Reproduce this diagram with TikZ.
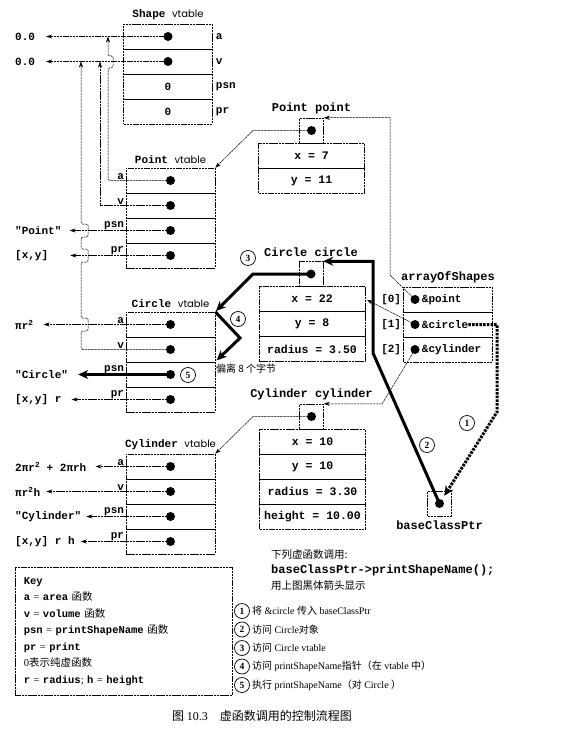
\documentclass[tikz,border=0pt]{standalone}
\usepackage{fontspec}
\setmainfont{Liberation Serif}
\setsansfont{Poppins}
\setmonofont{Liberation Mono}
\newfontfamily\cjk{Noto Sans CJK SC}
\newcommand\vtab{{\sffamily\mdseries\fontsize{10}{12}\selectfont vtable}}
\usetikzlibrary{arrows.meta,positioning}

\begin{document}
\begin{tikzpicture}[x=1pt,y=-1pt,
	thin line/.style={line width=0.5pt,dash pattern=on 2.5pt off 0.7pt},
	cell/.style={thin line,draw,minimum width=89pt,minimum height=25pt,inner sep=0pt},
	field/.style={cell,minimum width=106pt,font=\ttfamily\bfseries\fontsize{11.5}{12}\selectfont},
	holder/.style={cell,minimum width=24pt},
	dot/.style={circle,fill,inner sep=0pt,minimum size=9pt},
	code/.style={font=\ttfamily\bfseries\fontsize{11}{12}\selectfont,inner sep=0pt},
	title/.style={font=\ttfamily\bfseries\fontsize{12}{12}\selectfont,inner sep=0pt},
	ptr/.style={thin line,-{Stealth[length=6pt,width=4pt]}},
	flow/.style={line width=3pt,-{Stealth[length=10pt,width=9pt]}},
	hint/.style={flow,dash pattern=on 2.5pt off 1.2pt},
	num/.style={circle,draw,line width=0.7pt,inner sep=0pt,minimum size=15pt,font=\bfseries\fontsize{9.5}{9.5}\selectfont},
	note/.style={font=\fontsize{10}{12}\selectfont,inner sep=1pt},
	hop/.style={rounded corners=1.5pt}]
	\fill[white] (0,0) rectangle (576,735);
	\useasboundingbox (0,0) rectangle (576,735);

	\foreach \tb/\x/\y in {sv/168/36.5,pv/170.5/180.5,cv/170.5/324.5,yv/170.5/466.5}
		\foreach \row [count=\k from 0] in {A,V,Psn,Pr}
			\node[cell] (\tb\row) at (\x,\y+25*\k) {};
	\foreach \cellname in {svA,svV,pvA,pvV,pvPsn,pvPr,cvA,cvV,cvPsn,cvPr,yvA,yvV,yvPsn,yvPr}
		\node[dot] (\cellname-d) at (\cellname) {};
	\node[code] (svPsn-z) at (svPsn) {0};
	\node[code] (svPr-z) at (svPr) {0};

	\node[code,above=4pt of svA] (sv-t) {Shape \vtab};
	\node[code,above=4pt of pvA] (pv-t) {Point \vtab};
	\node[code,above=4pt of cvA] (cv-t) {Circle \vtab};
	\node[code,above=4pt of yvA] (yv-t) {Cylinder \vtab};

	\foreach \row/\lab in {A/a,V/v,Psn/psn,Pr/pr} {
		\node[code,right=3pt of sv\row] (sv\row-l) {\lab};
		\foreach \tb in {pv,cv,yv}
			\node[code,anchor=south east] (\tb\row-l) at ([shift={(-1.5pt,1pt)}]\tb\row.west) {\lab};
	}

	\node[code,anchor=west] (sA) at (15,36.5) {0.0};
	\node[code,anchor=west] (sV) at (15,61.5) {0.0};
	\node[code,anchor=west] (pPsn) at (15,230.5) {"Point"};
	\node[code,anchor=west] (pPr) at (15,255.5) {[x,y]};
	\node[code,anchor=west] (cA) at (15,324.5) {πr\textsuperscript{2}};
	\node[code,anchor=west] (cPsn) at (15,374.5) {"Circle"};
	\node[code,anchor=west] (cPr) at (15,399.5) {[x,y] r};
	\node[code,anchor=west] (yA) at (15,466.5) {2πr\textsuperscript{2} + 2πrh};
	\node[code,anchor=west] (yV) at (15,491.5) {πr\textsuperscript{2}h};
	\node[code,anchor=west] (yPsn) at (15,516.5) {"Cylinder"};
	\node[code,anchor=west] (yPr) at (15,541.5) {[x,y] r h};

	\draw[ptr,shorten >=11pt] (svA.center) -- (sA);
	\draw[ptr,shorten >=11pt] (svV.center) -- (sV);
	\draw[ptr,hop] (pvA.center) -- (108,180.5) -- (108,68) -- (113,68) -- (113,56) -- (108,56) -- (108,0 |- svA);
	\draw[ptr] (pvV.center) -- (100,205.5) -- (100,0 |- svV);
	\draw[ptr,shorten >=8pt] (pvPsn.center) -- (pPsn);
	\draw[ptr,shorten >=22pt] (pvPr.center) -- (pPr);
	\draw[ptr,shorten >=10pt] (cvA.center) -- (cA);
	\draw[ptr,hop] (cvV.center) -- (81,349.5) -- (81,331) -- (88,331) -- (88,318) -- (81,318) -- (81,262) -- (88,262) -- (88,249) -- (81,249) -- (81,237) -- (88,237) -- (88,224) -- (81,224) -- (81,0 |- svV);
	\draw[flow,shorten >=10pt] (cvPsn.center) -- (cPsn);
	\draw[ptr,shorten >=10pt] (cvPr.center) -- (cPr);
	\draw[ptr,shorten >=9pt] (yvA.center) -- (yA);
	\draw[ptr,shorten >=6pt] (yvV.center) -- (yV);
	\draw[ptr,shorten >=5pt] (yvPsn.center) -- (yPsn);
	\draw[ptr,shorten >=6pt] (yvPr.center) -- (yPr);

	\node[holder] (pp) at (311.5,130.5) {};
	\node[dot] (pp-d) at (pp) {};
	\node[field] (ppX) at (311.5,156) {x = 7};
	\node[field] (ppY) at (311.5,181) {y = 11};
	\node[title,above=4pt of pp] (pp-t) {Point point};

	\node[holder] (cc) at (311,274) {};
	\node[dot] (cc-d) at (cc) {};
	\node[field] (ccX) at (312,299) {x = 22};
	\node[field] (ccY) at (312,324) {y = 8};
	\node[field] (ccR) at (312,349) {radius = 3.50};
	\node[title,above=4pt of cc] (cc-t) {Circle circle};

	\node[holder] (yc) at (311.5,416.5) {};
	\node[dot] (yc-d) at (yc) {};
	\node[field] (ycX) at (312.5,441.5) {x = 10};
	\node[field] (ycY) at (312.5,466.5) {y = 10};
	\node[field] (ycR) at (312.5,491.5) {radius = 3.30};
	\node[field] (ycH) at (312.5,516.5) {height = 10.00};
	\node[title,above=4pt of yc] (yc-t) {Cylinder cylinder};

	\foreach \row/\lab/\n [count=\k from 0] in {P/point/0,C/circle/1,Y/cylinder/2} {
		\node[cell] (a\row) at (448,299.5+25*\k) {};
		\node[dot] (a\row-d) at ([xshift=-33pt]a\row.center) {};
		\node[code,right=2pt of a\row-d] (a\row-t) {\&\lab};
		\node[code,left=2pt of a\row] (a\row-i) {[\n]};
	}
	\node[title,above=4pt of aP] (a-t) {arrayOfShapes};

	\node[holder] (bp) at (439.5,503.5) {};
	\node[dot] (bp-d) at (bp) {};
	\node[title,below=4pt of bp] (bp-t) {baseClassPtr};

	\draw[ptr] (pp.center) -- (253,130.5) -- (pvA.north east);
	\draw[ptr] (yc.center) -- (253,416.5) -- (yvA.north east);
	\draw[ptr] (aP-d.center) -- (390,275) |- (pp.north east);
	\draw[ptr,shorten >=2pt] (aC-d.center) -- (ccX.east);
	\draw[ptr] (aY-d.center) -- (382,404) -- (yc.north east);

	\draw[hint,shorten >=9pt] (aC-t.east) -- (497,324.5) -- (497,412) -- (bp.center);
	\draw[flow] (bp.center) -- (373,353) |- (cc.north east);
	\draw[flow,shorten >=1pt] (cc.center) -- (253,274) -- (cvA.north east);
	\draw[flow,shorten >=2pt] (cvA.north east) -- (240,338) -- (cvPsn.north east);

	\node[num] (n1) at (467,423) {1};
	\node[num] (n2) at (427,445) {2};
	\node[num] (n3) at (248,258) {3};
	\node[num] (n4) at (238,319) {4};
	\node[num] (n5) at (188,375) {5};
	\node[anchor=west,inner sep=0pt,font=\cjk\fontsize{10}{12}\selectfont] (gap) at (216,369) {偏离 8 个字节};

	\node[anchor=west,inner sep=0pt,font=\cjk\fontsize{10.5}{12}\selectfont] (call1) at (271,555) {下列虚函数调用:};
	\node[title,anchor=west] (call2) at (271,570) {baseClassPtr->printShapeName();};
	\node[anchor=west,inner sep=0pt,font=\cjk\fontsize{10.5}{12}\selectfont] (call3) at (271,585) {用上图黑体箭头显示};

	\node[num] (k1) at (242,611) {1};
	\node[note,right=1pt of k1] (k1-t) {{\cjk 将} \&circle {\cjk 传入} baseClassPtr};
	\node[num] (k2) at (242,629.5) {2};
	\node[note,right=1pt of k2] (k2-t) {{\cjk 访问} Circle{\cjk 对象}};
	\node[num] (k3) at (242,648) {3};
	\node[note,right=1pt of k3] (k3-t) {{\cjk 访问} Circle vtable};
	\node[num] (k4) at (242,666.5) {4};
	\node[note,right=1pt of k4] (k4-t) {{\cjk 访问} printShapeName{\cjk 指针（在} vtable {\cjk 中）}};
	\node[num] (k5) at (242,685) {5};
	\node[note,right=1pt of k5] (k5-t) {{\cjk 执行} printShapeName{\cjk （对} Circle {\cjk ）}};

	\node[thin line,draw,anchor=north west,minimum width=217pt,minimum height=128pt,text width=200pt,inner xsep=8pt,align=left,font=\fontsize{10.5}{16.5}\selectfont] (key) at (15,567) {%
		{\ttfamily\bfseries Key}\\
		{\ttfamily\bfseries a} = {\ttfamily\bfseries area} {\cjk 函数}\\
		{\ttfamily\bfseries v} = {\ttfamily\bfseries volume} {\cjk 函数}\\
		{\ttfamily\bfseries psn} = {\ttfamily\bfseries printShapeName} {\cjk 函数}\\
		{\ttfamily\bfseries pr} = {\ttfamily\bfseries print}\\
		0{\cjk 表示纯虚函数}\\
		{\ttfamily\bfseries r} = {\ttfamily\bfseries radius}; {\ttfamily\bfseries h} = {\ttfamily\bfseries height}};

	\node[font=\cjk\fontsize{12}{12}\selectfont] (cap) at (262,716) {图 {\rmfamily 10.3}\quad 虚函数调用的控制流程图};
\end{tikzpicture}
\end{document}
